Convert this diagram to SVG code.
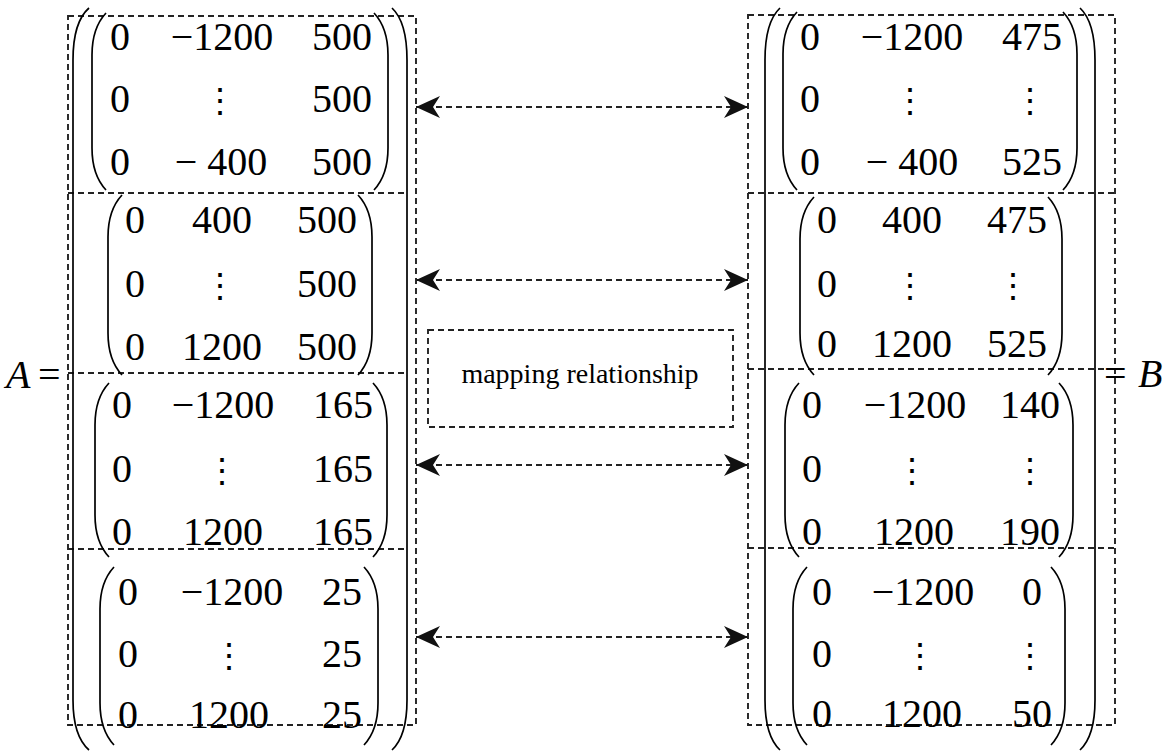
<svg xmlns="http://www.w3.org/2000/svg" width="1169" height="753" viewBox="0 0 1169 753">
<style>
.t{font-family:"Liberation Serif","Times New Roman",serif;font-size:40px;fill:#000}
.m{text-anchor:middle}
.v{font-family:"DejaVu Serif","Liberation Serif",serif;font-size:34px;text-anchor:middle}
.it{font-style:italic}
.p{fill:none;stroke:#000;stroke-width:1.7}
.d{fill:none;stroke:#222;stroke-width:1.9;stroke-dasharray:6 4}
.lab{font-family:"Liberation Serif","Times New Roman",serif;font-size:28px;fill:#000;text-anchor:middle}
</style>
<defs>
<marker id="ah" viewBox="0 0 24 22" refX="24" refY="11" markerWidth="24" markerHeight="22" markerUnits="userSpaceOnUse" orient="auto-start-reverse">
<path d="M0,0 L24,11 L0,22 L7,11 Z" fill="#111"/>
</marker>
</defs>
<rect width="1169" height="753" fill="#fff"/>

<g id="A-frame">
<rect class="d" x="68" y="16" width="348" height="709"/>
<line class="d" x1="68" y1="193" x2="408" y2="193"/>
<line class="d" x1="68" y1="373" x2="408" y2="373"/>
<line class="d" x1="68" y1="549" x2="408" y2="549"/>
<path class="p" d="M89,8 Q73,22 73,60 L73,700 Q73,736 89,750"/>
<path class="p" d="M392,8 Q407,22 407,60 L407,700 Q407,736 392,750"/>
<text class="t it" x="6" y="388">A</text>
<text class="t" x="38" y="388">=</text>
</g>

<g id="A1">
<path class="p" d="M106,13 Q92,28 92,55 L92,148 Q92,175 106,190"/>
<path class="p" d="M374,13 Q388,28 388,55 L388,148 Q388,175 374,190"/>
<text class="t" x="110" y="50">0</text><text class="t m" x="222" y="50">−1200</text><text class="t m" x="342" y="50">500</text>
<text class="t" x="110" y="112">0</text><text class="v" x="220" y="112">⋮</text><text class="t m" x="342" y="112">500</text>
<text class="t" x="110" y="175">0</text><text class="t m" x="221" y="175">− 400</text><text class="t m" x="342" y="175">500</text>
</g>

<g id="A2">
<path class="p" d="M122,195 Q108,210 108,237 L108,333 Q108,360 122,375"/>
<path class="p" d="M358,195 Q372,210 372,237 L372,333 Q372,360 358,375"/>
<text class="t" x="125" y="233">0</text><text class="t m" x="222" y="233">400</text><text class="t m" x="327" y="233">500</text>
<text class="t" x="125" y="297">0</text><text class="v" x="220" y="297">⋮</text><text class="t m" x="327" y="297">500</text>
<text class="t" x="125" y="360">0</text><text class="t m" x="222" y="360">1200</text><text class="t m" x="327" y="360">500</text>
</g>

<g id="A3">
<path class="p" d="M109,383 Q95,398 95,425 L95,515 Q95,542 109,557"/>
<path class="p" d="M373,383 Q387,398 387,425 L387,515 Q387,542 373,557"/>
<text class="t" x="112" y="418">0</text><text class="t m" x="223" y="418">−1200</text><text class="t m" x="343" y="418">165</text>
<text class="t" x="112" y="482">0</text><text class="v" x="222" y="482">⋮</text><text class="t m" x="343" y="482">165</text>
<text class="t" x="112" y="545">0</text><text class="t m" x="223" y="545">1200</text><text class="t m" x="343" y="545">165</text>
</g>

<g id="A4">
<path class="p" d="M114,567 Q100,582 100,609 L100,703 Q100,730 114,745"/>
<path class="p" d="M364,567 Q378,582 378,609 L378,703 Q378,730 364,745"/>
<text class="t" x="118" y="605">0</text><text class="t m" x="232" y="605">−1200</text><text class="t m" x="342" y="605">25</text>
<text class="t" x="118" y="667">0</text><text class="v" x="229" y="667">⋮</text><text class="t m" x="342" y="667">25</text>
<text class="t" x="118" y="728">0</text><text class="t m" x="229" y="728">1200</text><text class="t m" x="342" y="728">25</text>
</g>

<g id="B-frame">
<rect class="d" x="748" y="15" width="367" height="710"/>
<line class="d" x1="748" y1="193" x2="1115" y2="193"/>
<line class="d" x1="748" y1="369" x2="1115" y2="369"/>
<line class="d" x1="748" y1="548" x2="1115" y2="548"/>
<path class="p" d="M780,8 Q765,22 765,60 L765,700 Q765,736 780,750"/>
<path class="p" d="M1080,8 Q1095,22 1095,60 L1095,700 Q1095,736 1080,750"/>
<text class="t" x="1104" y="387">=</text>
<text class="t it" x="1138" y="387">B</text>
</g>

<g id="B1">
<path class="p" d="M797,12 Q783,27 783,54 L783,148 Q783,175 797,190"/>
<path class="p" d="M1063,12 Q1077,27 1077,54 L1077,148 Q1077,175 1063,190"/>
<text class="t" x="800" y="50">0</text><text class="t m" x="912" y="50">−1200</text><text class="t m" x="1032" y="50">475</text>
<text class="t" x="800" y="112">0</text><text class="v" x="910" y="112">⋮</text><text class="v" x="1030" y="112">⋮</text>
<text class="t" x="800" y="175">0</text><text class="t m" x="912" y="175">− 400</text><text class="t m" x="1032" y="175">525</text>
</g>

<g id="B2">
<path class="p" d="M814,197 Q800,212 800,239 L800,333 Q800,360 814,375"/>
<path class="p" d="M1048,197 Q1062,212 1062,239 L1062,333 Q1062,360 1048,375"/>
<text class="t" x="817" y="233">0</text><text class="t m" x="912" y="233">400</text><text class="t m" x="1017" y="233">475</text>
<text class="t" x="817" y="297">0</text><text class="v" x="910" y="297">⋮</text><text class="v" x="1013" y="297">⋮</text>
<text class="t" x="817" y="357">0</text><text class="t m" x="912" y="357">1200</text><text class="t m" x="1017" y="357">525</text>
</g>

<g id="B3">
<path class="p" d="M799,383 Q785,398 785,425 L785,515 Q785,542 799,557"/>
<path class="p" d="M1059,383 Q1073,398 1073,425 L1073,515 Q1073,542 1059,557"/>
<text class="t" x="802" y="418">0</text><text class="t m" x="915" y="418">−1200</text><text class="t m" x="1030" y="418">140</text>
<text class="t" x="802" y="482">0</text><text class="v" x="912" y="482">⋮</text><text class="v" x="1030" y="482">⋮</text>
<text class="t" x="802" y="545">0</text><text class="t m" x="914" y="545">1200</text><text class="t m" x="1030" y="545">190</text>
</g>

<g id="B4">
<path class="p" d="M807,567 Q793,582 793,609 L793,703 Q793,730 807,745"/>
<path class="p" d="M1051,567 Q1065,582 1065,609 L1065,703 Q1065,730 1051,745"/>
<text class="t" x="812" y="605">0</text><text class="t m" x="923" y="605">−1200</text><text class="t m" x="1032" y="605">0</text>
<text class="t" x="812" y="667">0</text><text class="v" x="920" y="667">⋮</text><text class="v" x="1030" y="667">⋮</text>
<text class="t" x="812" y="727">0</text><text class="t m" x="922" y="727">1200</text><text class="t m" x="1032" y="727">50</text>
</g>

<g id="mapping">
<rect class="d" x="428" y="330" width="305" height="97"/>
<text class="lab" x="580" y="383">mapping relationship</text>
</g>

<g id="connectors">
<line class="d" x1="416" y1="107" x2="748" y2="107" marker-start="url(#ah)" marker-end="url(#ah)"/>
<line class="d" x1="416" y1="280" x2="748" y2="280" marker-start="url(#ah)" marker-end="url(#ah)"/>
<line class="d" x1="416" y1="465" x2="748" y2="465" marker-start="url(#ah)" marker-end="url(#ah)"/>
<line class="d" x1="416" y1="637" x2="748" y2="637" marker-start="url(#ah)" marker-end="url(#ah)"/>
</g>
</svg>
